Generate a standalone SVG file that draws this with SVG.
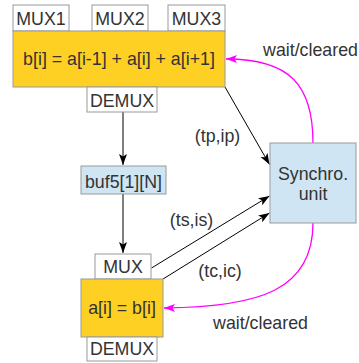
<svg xmlns="http://www.w3.org/2000/svg" width="359" height="363" viewBox="0 0 359 363">
<style>
.t{font-family:"Liberation Sans",Arial,sans-serif;font-size:17.8px;fill:#333;text-anchor:middle}
.w{fill:#fff;stroke:#999;stroke-width:1}
.y{fill:#fdd023;stroke:#999;stroke-width:1}
.b{fill:#cfe5f4;stroke:#999;stroke-width:1}
.k{fill:none;stroke:#000;stroke-width:1}
.m{fill:none;stroke:#f0f;stroke-width:1.3}
</style>
<defs>
<marker id="ak" markerUnits="userSpaceOnUse" markerWidth="12" markerHeight="10" refX="11" refY="4" orient="auto" overflow="visible">
<path d="M0,0 L11,4 L0,8 L2.5,4 z" fill="#000"/>
</marker>
<marker id="am" markerUnits="userSpaceOnUse" markerWidth="12" markerHeight="10" refX="11" refY="4" orient="auto" overflow="visible">
<path d="M0,0 L11,4 L0,8 L2.5,4 z" fill="#f0f"/>
</marker>
</defs>
<g id="connectors">
<line class="k" x1="123" y1="112" x2="123" y2="165" marker-end="url(#ak)"/>
<line class="k" x1="123" y1="194" x2="123" y2="253" marker-end="url(#ak)"/>
<line class="k" x1="225" y1="87" x2="269.5" y2="164.5" marker-end="url(#ak)"/>
<line class="k" x1="151.5" y1="268" x2="269.5" y2="196" marker-end="url(#ak)"/>
<line class="k" x1="163" y1="279" x2="269.5" y2="213" marker-end="url(#ak)"/>
<path class="m" d="M313 143 C313 85 290 59 226 59" marker-end="url(#am)"/>
<path class="m" d="M313 223 C313 290 260 307 164 308" marker-end="url(#am)"/>
<text class="t" x="217.5" y="141.5">(tp,ip)</text>
<text class="t" x="191.5" y="225.5">(ts,is)</text>
<text class="t" x="220" y="276.5">(tc,ic)</text>
<text class="t" x="310.5" y="56">wait/cleared</text>
<text class="t" x="260.5" y="329">wait/cleared</text>
</g>
<g id="mux1"><rect class="w" x="13" y="5" width="56" height="26"/><text class="t" x="41" y="25">MUX1</text></g>
<g id="mux2"><rect class="w" x="92" y="5" width="56" height="26"/><text class="t" x="120" y="25">MUX2</text></g>
<g id="mux3"><rect class="w" x="168" y="5" width="57" height="26"/><text class="t" x="196.5" y="25">MUX3</text></g>
<g id="compute1"><rect class="y" x="13" y="31" width="212" height="56"/><text class="t" x="119" y="65">b[i] = a[i-1] + a[i] + a[i+1]</text></g>
<g id="demux1"><rect class="w" x="87" y="87" width="70" height="25"/><text class="t" x="122" y="106.5">DEMUX</text></g>
<g id="buf"><rect class="b" x="81" y="166" width="85" height="28"/><text class="t" x="123.5" y="187.5">buf5[1][N]</text></g>
<g id="mux4"><rect class="w" x="95" y="254" width="56" height="25"/><text class="t" x="123" y="273.3">MUX</text></g>
<g id="compute2"><rect class="y" x="81" y="279" width="82" height="58"/><text class="t" x="122" y="314">a[i] = b[i]</text></g>
<g id="demux2"><rect class="w" x="87" y="337" width="70" height="24"/><text class="t" x="122" y="355">DEMUX</text></g>
<g id="sync"><rect class="b" x="270" y="143" width="86" height="80"/><text class="t" x="313" y="180">Synchro.</text><text class="t" x="313" y="199.5">unit</text></g>
</svg>
